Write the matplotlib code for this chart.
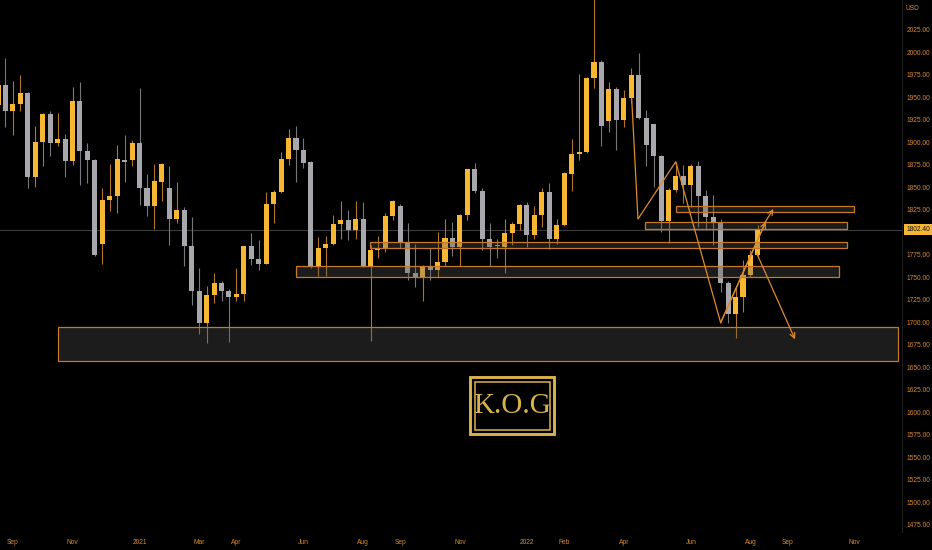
import matplotlib

matplotlib.use("Agg")
import matplotlib.pyplot as plt
import numpy as np
import pandas as pd
from matplotlib.patches import Rectangle

# weekly candles, first bar is the week of 2020-08-24
first_week = pd.Timestamp("2020-08-24")

opens = [1941, 1963, 1934, 1942, 1955, 1861, 1900, 1931, 1899, 1903,
         1879, 1946, 1890, 1880, 1787, 1836, 1840, 1880, 1880, 1899,
         1849, 1829, 1856, 1849, 1814, 1824, 1784, 1734, 1699, 1730,
         1743, 1734, 1728, 1731, 1784, 1770, 1764, 1831, 1844, 1881,
         1905, 1891, 1878, 1762, 1782, 1787, 1809, 1813, 1802, 1815,
         1762, 1780, 1782, 1818, 1829, 1788, 1755, 1750, 1761, 1758,
         1767, 1793, 1783, 1819, 1870, 1846, 1792, 1785, 1783, 1799,
         1809, 1830, 1797, 1819, 1844, 1792, 1808, 1865, 1887, 1889,
         1971, 1989, 1923, 1959, 1925, 1949, 1974, 1927, 1920, 1884,
         1812, 1847, 1862, 1852, 1873, 1840, 1817, 1811, 1743, 1709,
         1728, 1752, 1775]
highs = [1966, 1993, 1968, 1974, 1956, 1918, 1932, 1934, 1932, 1909,
         1961, 1967, 1899, 1881, 1849, 1876, 1897, 1908, 1902, 1960,
         1865, 1876, 1877, 1873, 1856, 1828, 1817, 1760, 1740, 1755,
         1746, 1737, 1760, 1785, 1799, 1791, 1844, 1847, 1889, 1914,
         1918, 1905, 1879, 1795, 1796, 1819, 1834, 1825, 1834, 1833,
         1786, 1796, 1821, 1836, 1831, 1810, 1787, 1763, 1782, 1800,
         1814, 1811, 1820, 1870, 1877, 1849, 1810, 1792, 1815, 1811,
         1831, 1833, 1829, 1849, 1855, 1815, 1867, 1903, 1976, 1972,
         2070, 1991, 1967, 1961, 1958, 1982, 1999, 1936, 1920, 1886,
         1849, 1878, 1874, 1876, 1879, 1847, 1841, 1814, 1746, 1739,
         1769, 1780, 1808]
lows = [1935, 1917, 1908, 1934, 1849, 1850, 1873, 1884, 1896, 1861,
        1874, 1852, 1854, 1773, 1765, 1823, 1821, 1856, 1873, 1830,
        1818, 1803, 1834, 1786, 1810, 1762, 1719, 1687, 1677, 1721,
        1723, 1678, 1723, 1723, 1763, 1758, 1764, 1810, 1843, 1874,
        1856, 1871, 1760, 1751, 1751, 1786, 1792, 1791, 1792, 1761,
        1679, 1771, 1778, 1813, 1782, 1747, 1739, 1723, 1747, 1750,
        1762, 1773, 1762, 1813, 1843, 1780, 1762, 1771, 1754, 1786,
        1802, 1783, 1792, 1806, 1781, 1787, 1807, 1846, 1880, 1888,
        1960, 1896, 1911, 1891, 1917, 1943, 1926, 1873, 1850, 1800,
        1788, 1844, 1832, 1828, 1806, 1802, 1786, 1733, 1699, 1682,
        1711, 1750, 1773]
closes = [1963, 1934, 1942, 1955, 1861, 1900, 1931, 1899, 1903, 1879,
          1946, 1890, 1880, 1775, 1836, 1840, 1881, 1878, 1899, 1849,
          1829, 1857, 1876, 1814, 1824, 1784, 1734, 1699, 1730, 1743,
          1734, 1728, 1731, 1784, 1770, 1764, 1831, 1844, 1881, 1905,
          1891, 1877, 1762, 1782, 1787, 1809, 1813, 1802, 1815, 1762,
          1780, 1782, 1818, 1834, 1788, 1754, 1750, 1761, 1758, 1767,
          1793, 1783, 1819, 1870, 1846, 1792, 1783, 1784, 1799, 1809,
          1830, 1797, 1819, 1844, 1792, 1808, 1866, 1887, 1889, 1971,
          1989, 1918, 1959, 1925, 1949, 1974, 1927, 1897, 1884, 1812,
          1847, 1862, 1852, 1873, 1840, 1817, 1811, 1743, 1709, 1728,
          1752, 1775, 1803]

last_price = 1802.40

# x axis month labels (first weekly bar of each month)
tick_dates = ["2020-09-07", "2020-11-02", "2021-01-04", "2021-03-01",
              "2021-04-05", "2021-06-07", "2021-08-02", "2021-09-06",
              "2021-11-01", "2022-01-03", "2022-02-07", "2022-04-04",
              "2022-06-06", "2022-08-01", "2022-09-05", "2022-11-07"]
tick_names = ["Sep", "Nov", "2021", "Mar", "Apr", "Jun", "Aug", "Sep",
              "Nov", "2022", "Feb", "Apr", "Jun", "Aug", "Sep", "Nov"]
price_ticks = list(range(1475, 2026, 25))

# zones: start bar, end bar, low, high
zone_start = [8.05, 40.0, 49.9, 86.9, 91.0]
zone_end = [120.8, 112.9, 113.9, 113.9, 114.9]
zone_low = [1656.7, 1750.4, 1782.8, 1803.0, 1821.9]
zone_high = [1694.5, 1762.8, 1788.6, 1810.8, 1829.2]

# projection path drawn on the chart
path_bar = [85.06, 85.9, 90.97, 97.0, 103.05]
path_price = [1947.8, 1814.4, 1878.1, 1699.2, 1811.4]
arrow_up_bar = [102.9, 104.07]
arrow_up_price = [1810.0, 1825.6]
arrow_down_bar = [101.84, 106.98]
arrow_down_price = [1776.3, 1680.8]

BG = "#000000"
UP = "#f7b733"
DOWN = "#a7a7ac"
UP_WICK = "#b07526"
DOWN_WICK = "#78787c"
ZONE_EDGE = "#c7792a"
LINE = "#e08a2c"
LABEL = "#d98a2c"
GOLD = "#d9b24a"
TICK_FONT = ["Liberation Sans Narrow", "Liberation Sans", "DejaVu Sans"]

o = np.array(opens, dtype=float)
h = np.array(highs, dtype=float)
l = np.array(lows, dtype=float)
c = np.array(closes, dtype=float)
x = np.arange(len(o))
up = c >= o

fig = plt.figure(figsize=(9.32, 5.5), dpi=100, facecolor=BG)
ax = fig.add_axes([0, 18 / 550, 902 / 932, 532 / 550], facecolor=BG)

ax.vlines(x[up], l[up], h[up], color=UP_WICK, linewidth=0.8, zorder=2)
ax.vlines(x[~up], l[~up], h[~up], color=DOWN_WICK, linewidth=0.8, zorder=2)
body_low = np.minimum(o, c)
body_h = np.maximum(np.abs(c - o), 1.2)
ax.bar(x[up], body_h[up], bottom=body_low[up], width=0.68, color=UP, linewidth=0, zorder=3)
ax.bar(x[~up], body_h[~up], bottom=body_low[~up], width=0.68, color=DOWN, linewidth=0, zorder=3)

for x0, x1, y0, y1 in zip(zone_start, zone_end, zone_low, zone_high):
    ax.add_patch(Rectangle((x0, y0), x1 - x0, y1 - y0, facecolor="#5a5a5a", alpha=0.32,
                           edgecolor="none", zorder=4))
    ax.add_patch(Rectangle((x0, y0), x1 - x0, y1 - y0, facecolor="none",
                           edgecolor=ZONE_EDGE, linewidth=0.9, zorder=5))

ax.axhline(last_price, color="#3c3c3c", linewidth=0.8, zorder=1)

ax.plot(path_bar, path_price, color=LINE, linewidth=0.9, zorder=6)
for bars, prices in [(path_bar[-2:], path_price[-2:]), (arrow_up_bar, arrow_up_price),
                     (arrow_down_bar, arrow_down_price)]:
    ax.annotate("", xy=(bars[1], prices[1]), xytext=(bars[0], prices[0]),
                arrowprops=dict(arrowstyle="->", color=LINE, lw=0.9,
                                mutation_scale=9, shrinkA=0, shrinkB=0), zorder=6)

ax.set_xlim(0.268, 121.34)
ax.set_ylim(1466.7, 2057.8)

tick_idx = [(pd.Timestamp(d) - first_week).days // 7 for d in tick_dates]
ax.set_xticks(tick_idx)
ax.set_xticklabels(tick_names)
# the last-price tag hides the nearest axis label
shown_ticks = [p for p in price_ticks if abs(p - last_price) > 10]
ax.set_yticks(shown_ticks)
ax.set_yticklabels([f"{p:.2f}" for p in shown_ticks])
ax.yaxis.tick_right()
ax.tick_params(axis="both", length=0, colors=LABEL, labelsize=4.8)
ax.tick_params(axis="x", pad=5)
ax.tick_params(axis="y", pad=3.2)
for lab in ax.get_xticklabels() + ax.get_yticklabels():
    lab.set_family(TICK_FONT)

for side in ["top", "left", "bottom"]:
    ax.spines[side].set_visible(False)
ax.spines["right"].set_color("#1e1e1e")
ax.spines["right"].set_linewidth(0.8)

fig.text(906 / 932, 1 - 9 / 550, "USD", color=LABEL, fontsize=4.8, family=TICK_FONT,
         ha="left", va="center")
ax.annotate(f"{last_price:.2f}", xy=(1.0, last_price), xycoords=("axes fraction", "data"),
            xytext=(3.2, 0), textcoords="offset points", ha="left", va="center",
            fontsize=4.8, color="#111111", family=TICK_FONT,
            bbox=dict(boxstyle="square,pad=0.3", facecolor="#f4b634", edgecolor="none"))

# logo
def frac(px, py):
    return px / 932, 1 - py / 550

for (x0, y0, x1, y1), lw in [((470, 376.5, 554, 434), 2.1), ((474.8, 381.5, 549.5, 429.5), 1.1)]:
    fx0, fy1 = frac(x0, y0)
    fx1, fy0 = frac(x1, y1)
    fig.patches.append(Rectangle((fx0, fy0), fx1 - fx0, fy1 - fy0, transform=fig.transFigure,
                                 facecolor="none", edgecolor=GOLD, linewidth=lw))
lx, ly = frac(512, 406)
fig.text(lx, ly, "K.O.G", color=GOLD, fontsize=21, family=["Liberation Serif", "DejaVu Serif"],
         ha="center", va="center")

fig.savefig("out.png", dpi=100, facecolor=BG)
